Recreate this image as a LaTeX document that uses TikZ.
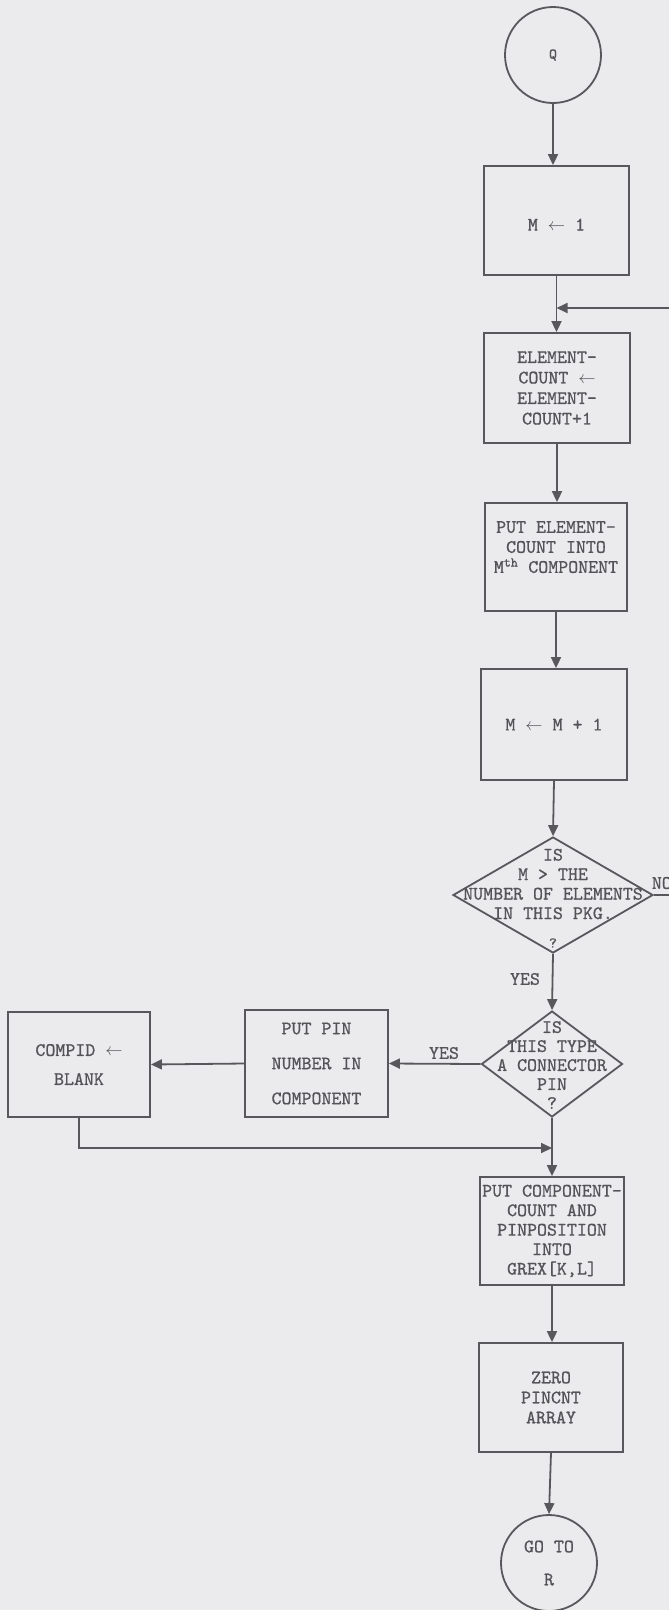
\documentclass[tikz,border=0pt]{standalone}
\usepackage{fontspec}
\usetikzlibrary{arrows.meta,shapes.geometric}
\newfontfamily\typer{lmmono10-regular.otf}[FakeBold=0.8]
\definecolor{paper}{RGB}{235,235,237}
\definecolor{ink}{RGB}{88,88,92}
\definecolor{typeink}{RGB}{84,84,88}
\begin{document}
\begin{tikzpicture}[x=1pt,y=-1pt,
  line width=1.8pt,
  every node/.style={font=\fontsize{19}{20}\selectfont\typer, text=typeink},
  box/.style={draw=ink, rectangle, inner sep=0pt, align=center},
  term/.style={draw=ink, circle, minimum size=96pt, inner sep=0pt, align=center},
  test/.style={draw=ink, diamond, inner sep=0pt},
  flow/.style={draw=ink, -{Triangle[length=11pt,width=10pt]}},
  line/.style={draw=ink},
  tag/.style={inner sep=0pt, align=center}
]
\fill[paper] (0,0) rectangle (669,1610);
\useasboundingbox (0,0) rectangle (669,1610);

% main column
\node[term] (q) at (553,55) {\fontsize{15}{16}\selectfont Q};
\node[box, minimum width=145pt, minimum height=109pt] (m1) at (556.5,220.5) {\mbox{}\\M $\leftarrow$ 1};
\node[box, minimum width=146pt, minimum height=110pt, font=\fontsize{19}{20.5}\selectfont\typer] (ec) at (557,388)
  {ELEMENT-\\COUNT $\leftarrow$\\ELEMENT-\\COUNT+1};
\node[box, minimum width=142pt, minimum height=108pt] (put) at (556,557)
  {PUT ELEMENT-\\COUNT INTO\\M\textsuperscript{th} COMPONENT\\\mbox{}};
\node[box, minimum width=146pt, minimum height=111pt] (inc) at (554,724.5) {M $\leftarrow$ M + 1};

\node[test, minimum width=200pt, minimum height=116pt] (d1) at (553,895) {};
\node[tag, font=\fontsize{19}{19.5}\selectfont\typer] (d1t) at (553,884)
  {IS\\M > THE\\NUMBER OF ELEMENTS\\IN THIS PKG.};
\node[tag] (d1q) at (553,943) {\fontsize{15}{16}\selectfont ?};

\node[test, minimum width=141pt, minimum height=106pt] (d2) at (552,1064) {};
\node[tag, font=\fontsize{19}{19}\selectfont\typer] (d2t) at (552,1065)
  {IS\\THIS TYPE\\A CONNECTOR\\PIN\\?};

\node[box, minimum width=144pt, minimum height=108pt, font=\fontsize{19}{19.5}\selectfont\typer] (grex) at (552,1231)
  {PUT COMPONENT-\\COUNT AND\\PINPOSITION\\INTO\\GREX[K,L]};
\node[box, minimum width=144pt, minimum height=109pt] (zero) at (551,1397.5) {ZERO\\PINCNT\\ARRAY};
\node[term, font=\fontsize{19}{33}\selectfont\typer] (gor) at (549,1563) {GO TO\\R};

% side branch
\node[box, minimum width=143pt, minimum height=107pt, font=\fontsize{19}{35}\selectfont\typer] (pin) at (316.5,1063.5)
  {PUT PIN\\NUMBER IN\\COMPONENT};
\node[box, minimum width=142pt, minimum height=105pt, font=\fontsize{19}{29}\selectfont\typer] (blank) at (79,1064.5)
  {COMPID $\leftarrow$\\BLANK};

% branch labels
\node[tag] (yes1) at (525,979) {YES};
\node[tag] (yes2) at (444,1053) {YES};
\node[tag, anchor=west] (no) at (651,883) {NO};

% free ends and junctions
\coordinate (loopin) at (669,308);
\coordinate (noout) at (669,895);
\coordinate (jy) at (0,1148);
\coordinate (join) at (d2.south |- jy);

% connectors
\draw[flow] (q.south) -- (q.south |- m1.north);
\draw[flow] (m1.south) -- (m1.south |- ec.north);
\draw[flow] (loopin) -- (loopin -| m1.south);
\draw[flow] (ec.south) -- (ec.south |- put.north);
\draw[flow] (put.south) -- (put.south |- inc.north);
\draw[flow] (inc.south) -- (d1.north);
\draw[line] (d1.east) -- (noout);
\draw[flow] (d1.south) -- (d2.north);
\draw[flow] (d2.west) -- (pin.east);
\draw[flow] (pin.west) -- (blank.east);
\draw[flow] (d2.south) -- (d2.south |- grex.north);
\draw[flow] (blank.south) |- (join);
\draw[flow] (grex.south) -- (grex.south |- zero.north);
\draw[flow] (zero.south) -- (gor.north);
\end{tikzpicture}
\end{document}
